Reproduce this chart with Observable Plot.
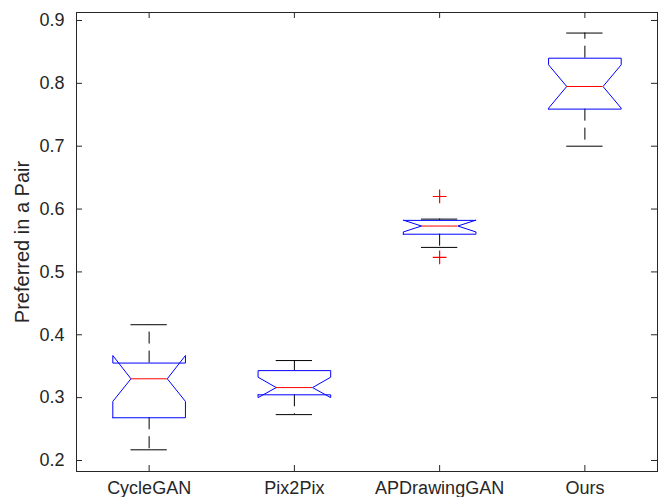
<!DOCTYPE html>
<html><head><meta charset="utf-8">
<script src="https://cdn.jsdelivr.net/npm/d3@7"></script>
<script src="https://cdn.jsdelivr.net/npm/@observablehq/plot@0.6"></script>
<style>body{margin:0;background:#fff}#chart{position:absolute;left:0;top:0}</style>
</head><body><div id="chart"></div>
<script>
const categories = ["CycleGAN", "Pix2Pix", "APDrawingGAN", "Ours"];
const q1        = [0.268, 0.3045, 0.560, 0.759];
const medians   = [0.330, 0.316,  0.573, 0.795];
const q3        = [0.355, 0.343,  0.582, 0.840];
const notchLo   = [0.294, 0.300,  0.5636, 0.7605];
const notchHi   = [0.367, 0.3325, 0.5824, 0.8295];
const whiskerLo = [0.217, 0.273,  0.539, 0.700];
const whiskerHi = [0.416, 0.359,  0.584, 0.880];
const outlierCat = ["APDrawingGAN", "APDrawingGAN"];
const outlierVal = [0.620, 0.523];
const yTicks = [0.2, 0.3, 0.4, 0.5, 0.6, 0.7, 0.8, 0.9];

const BW = 0.25, NW = 0.125;
const stats = categories.map((c, i) => ({
  cat: c, pos: i + 1, q1: q1[i], med: medians[i], q3: q3[i],
  nlo: notchLo[i], nhi: notchHi[i], wlo: whiskerLo[i], whi: whiskerHi[i]
}));
const outline = stats.flatMap(d => {
  const x = d.pos;
  return [
    [x - BW, d.q1], [x - BW, d.nlo], [x - NW, d.med], [x - BW, d.nhi], [x - BW, d.q3],
    [x + BW, d.q3], [x + BW, d.nhi], [x + NW, d.med], [x + BW, d.nlo], [x + BW, d.q1], [x - BW, d.q1]
  ].map(([px, py]) => ({cat: d.cat, x: px, y: py}));
});
const outliers = outlierCat.map((c, i) => ({pos: categories.indexOf(c) + 1, v: outlierVal[i]}));

const xDom = [0.5, 4.5], yDom = [0.1825, 0.9127];
const ml = 76, mr = 7, mt = 12, mb = 26, W = 664, H = 497;
const xt = 6 * (xDom[1] - xDom[0]) / (W - ml - mr);
const yt = 6 * (yDom[1] - yDom[0]) / (H - mt - mb);
const axisCol = "#262626";
const font = "'Liberation Sans', Arial, Helvetica, sans-serif";

const chart = Plot.plot({
  width: W, height: H,
  marginLeft: ml, marginRight: mr, marginTop: mt, marginBottom: mb,
  style: {fontFamily: font, background: "#fff", color: axisCol},
  x: {domain: xDom},
  y: {domain: yDom},
  marks: [
    Plot.axisX({ticks: [1, 2, 3, 4], tickFormat: d => categories[d - 1], tickSize: 0, tickPadding: 10, fontSize: 18, label: null}),
    Plot.axisY({ticks: yTicks, tickFormat: d3.format(".1f"), tickSize: 0, tickPadding: 12, fontSize: 18, label: null}),
    Plot.text(["Preferred in a Pair"], {frameAnchor: "left", textAnchor: "middle", lineAnchor: "middle", dx: -54, rotate: -90, fontSize: 20, fill: axisCol, text: d => d}),
    Plot.ruleY(yTicks, {y: d => d, x1: xDom[0], x2: xDom[0] + xt, stroke: axisCol}),
    Plot.ruleY(yTicks, {y: d => d, x1: xDom[1] - xt, x2: xDom[1], stroke: axisCol}),
    Plot.ruleX([1, 2, 3, 4], {x: d => d, y1: yDom[0], y2: yDom[0] + yt, stroke: axisCol}),
    Plot.ruleX([1, 2, 3, 4], {x: d => d, y1: yDom[1] - yt, y2: yDom[1], stroke: axisCol}),
    Plot.frame({stroke: axisCol}),
    Plot.ruleX(stats, {x: "pos", y1: "q3", y2: "whi", stroke: "#000", strokeDasharray: "12,7"}),
    Plot.ruleX(stats, {x: "pos", y1: "q1", y2: "wlo", stroke: "#000", strokeDasharray: "12,7"}),
    Plot.ruleY(stats, {y: "whi", x1: d => d.pos - NW, x2: d => d.pos + NW, stroke: "#000"}),
    Plot.ruleY(stats, {y: "wlo", x1: d => d.pos - NW, x2: d => d.pos + NW, stroke: "#000"}),
    Plot.line(outline, {x: "x", y: "y", z: "cat", stroke: "#0000ff", strokeWidth: 1}),
    Plot.ruleY(stats, {y: "med", x1: d => d.pos - NW, x2: d => d.pos + NW, stroke: "#ff0000"}),
    Plot.dot(outliers, {x: "pos", y: "v", symbol: "plus", r: 4.5, stroke: "#ff0000", strokeWidth: 1.2})
  ]
});
document.getElementById("chart").appendChild(chart);
</script></body></html>
